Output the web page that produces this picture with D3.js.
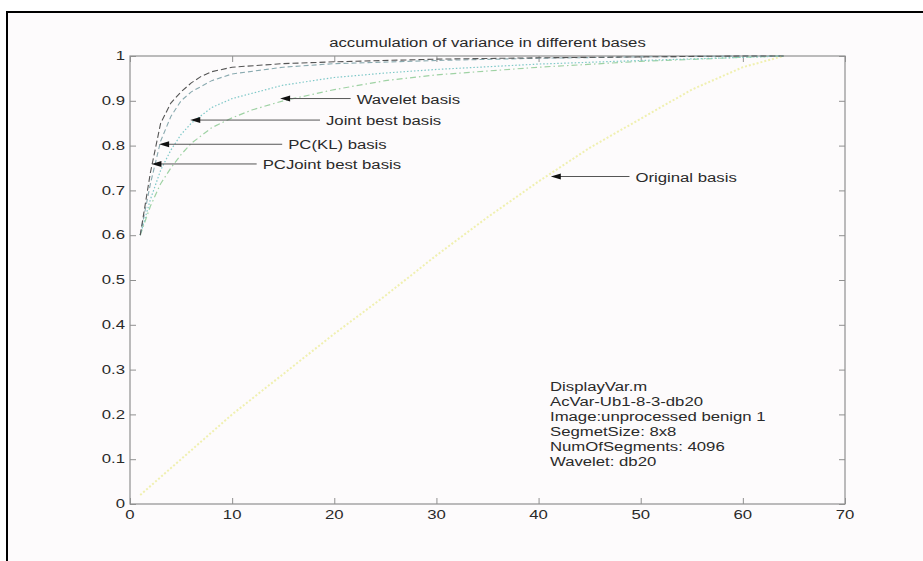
<!DOCTYPE html>
<html>
<head>
<meta charset="utf-8">
<script src="https://cdn.jsdelivr.net/npm/d3@7"></script>
<style>
  body { margin: 0; background: #fff; }
  svg text { font-family: "Liberation Sans", Arial, sans-serif; fill: #2a2a2a; }
</style>
</head>
<body>
<svg id="chart" width="923" height="561"></svg>
<script>
// coefficient index vs accumulated variance
var pcJointX   = [1, 2, 3, 4, 5, 6, 7, 8, 10, 15, 20, 30, 40, 50, 60, 64];
var pcJointY   = [0.60, 0.74, 0.85, 0.895, 0.92, 0.94, 0.955, 0.965, 0.975, 0.983, 0.987, 0.993, 0.996, 0.998, 1.0, 1.0];
var pcKlX      = [1, 2, 3, 4, 5, 6, 8, 10, 15, 20, 30, 40, 50, 60, 64];
var pcKlY      = [0.60, 0.715, 0.81, 0.865, 0.90, 0.92, 0.945, 0.96, 0.975, 0.983, 0.99, 0.995, 0.998, 1.0, 1.0];
var jointX     = [1, 2, 3, 4, 5, 6, 8, 10, 15, 20, 25, 30, 40, 50, 60, 64];
var jointY     = [0.60, 0.68, 0.745, 0.79, 0.825, 0.85, 0.885, 0.905, 0.935, 0.952, 0.962, 0.97, 0.982, 0.99, 0.997, 1.0];
var waveletX   = [1, 2, 3, 4, 5, 6, 8, 10, 12, 15, 20, 25, 30, 40, 50, 60, 64];
var waveletY   = [0.60, 0.665, 0.715, 0.75, 0.78, 0.805, 0.84, 0.862, 0.88, 0.90, 0.925, 0.945, 0.958, 0.975, 0.988, 0.997, 1.0];
var originalX  = [1, 5, 10, 15, 20, 25, 30, 35, 40, 45, 50, 55, 60, 64];
var originalY  = [0.02, 0.10, 0.20, 0.29, 0.38, 0.465, 0.555, 0.64, 0.72, 0.795, 0.86, 0.925, 0.975, 1.0];

var xTicks = [0, 10, 20, 30, 40, 50, 60, 70];
var yTicks = [0, 0.1, 0.2, 0.3, 0.4, 0.5, 0.6, 0.7, 0.8, 0.9, 1];

// arrow annotations: label, tip point (data), tail x (data)
var noteLabels = ["Wavelet basis", "Joint best basis", "PC(KL) basis", "PCJoint best basis", "Original basis"];
var noteTipX   = [14.7, 5.9, 2.85, 2.1, 41.2];
var noteTipY   = [0.905, 0.857, 0.803, 0.759, 0.731];
var noteTailX  = [21.6, 18.6, 14.9, 12.4, 48.9];

var infoLines = ["DisplayVar.m", "AcVar-Ub1-8-3-db20", "Image:unprocessed benign 1",
                 "SegmetSize: 8x8", "NumOfSegments: 4096", "Wavelet: db20"];

var title = "accumulation of variance in different bases";

var svg = d3.select("#chart");
var plotL = 130, plotR = 845, plotT = 56, plotB = 504;
var stretch = 1.36; // the source picture is widened
var fontSize = 12.3;

var x = d3.scaleLinear().domain([0, 70]).range([plotL, plotR]);
var y = d3.scaleLinear().domain([0, 1]).range([plotB, plotT]);

// figure frame
svg.append("rect").attr("x", 7).attr("y", 12).attr("width", 930).attr("height", 560)
  .attr("fill", "#fdfbfc").attr("stroke", "#000").attr("stroke-width", 2);

function stext(g, tx, ty, str, anchor) {
  return g.append("text")
    .attr("transform", "translate(" + tx + "," + ty + ") scale(" + stretch + ",1)")
    .attr("text-anchor", anchor || "start")
    .attr("dominant-baseline", "central")
    .attr("font-size", fontSize)
    .text(str);
}

// axes box with inward ticks on all sides
var axisColor = "#909090";
svg.append("rect").attr("x", plotL).attr("y", plotT).attr("width", plotR - plotL).attr("height", plotB - plotT)
  .attr("fill", "none").attr("stroke", axisColor).attr("stroke-width", 1.2);

var gx = svg.append("g").attr("transform", "translate(0," + plotB + ")")
  .call(d3.axisBottom(x).tickValues(xTicks).tickSize(-6).tickFormat(""));
var gxt = svg.append("g").attr("transform", "translate(0," + plotT + ")")
  .call(d3.axisTop(x).tickValues(xTicks).tickSize(-6).tickFormat(""));
var gy = svg.append("g").attr("transform", "translate(" + plotL + ",0)")
  .call(d3.axisLeft(y).tickValues(yTicks).tickSize(-6).tickFormat(""));
var gyr = svg.append("g").attr("transform", "translate(" + plotR + ",0)")
  .call(d3.axisRight(y).tickValues(yTicks).tickSize(-6).tickFormat(""));
[gx, gxt, gy, gyr].forEach(function(g) {
  g.select(".domain").remove();
  g.selectAll(".tick line").attr("stroke", axisColor);
});

xTicks.forEach(function(t) { stext(svg, x(t), plotB + 11, String(t), "middle"); });
yTicks.forEach(function(t) { stext(svg, plotL - 5, y(t), String(t), "end"); });

stext(svg, (plotL + plotR) / 2, 43, title, "middle");

// curves
var line = d3.line().x(function(d) { return x(d[0]); }).y(function(d) { return y(d[1]); });
var series = [
  { xs: originalX, ys: originalY, color: "#f0f0b0", dash: "2,2", w: 2 },
  { xs: waveletX, ys: waveletY, color: "#9fd2a4", dash: "6,3,1.5,3", w: 1.2 },
  { xs: jointX, ys: jointY, color: "#7ec8c8", dash: "1.5,2", w: 1.2 },
  { xs: pcKlX, ys: pcKlY, color: "#8aaab0", dash: "5,3", w: 1.1 },
  { xs: pcJointX, ys: pcJointY, color: "#555", dash: "6,3", w: 1.1 }
];
series.forEach(function(s) {
  svg.append("path")
    .datum(d3.zip(s.xs, s.ys))
    .attr("d", line)
    .attr("fill", "none")
    .attr("stroke", s.color)
    .attr("stroke-width", s.w)
    .attr("stroke-dasharray", s.dash);
});

// arrows
noteLabels.forEach(function(lab, i) {
  var tx = x(noteTipX[i]), ty = y(noteTipY[i]), ex = x(noteTailX[i]);
  svg.append("line").attr("x1", tx + 4).attr("y1", ty).attr("x2", ex).attr("y2", ty)
    .attr("stroke", "#555").attr("stroke-width", 1);
  svg.append("path")
    .attr("d", "M" + tx + "," + ty + "L" + (tx + 10) + "," + (ty - 3) + "L" + (tx + 10) + "," + (ty + 3) + "Z")
    .attr("fill", "#111");
  stext(svg, ex + 6, ty + 1, lab, "start");
});

// info block
infoLines.forEach(function(s, i) { stext(svg, 550, 387 + i * 15, s, "start"); });
</script>
</body>
</html>
